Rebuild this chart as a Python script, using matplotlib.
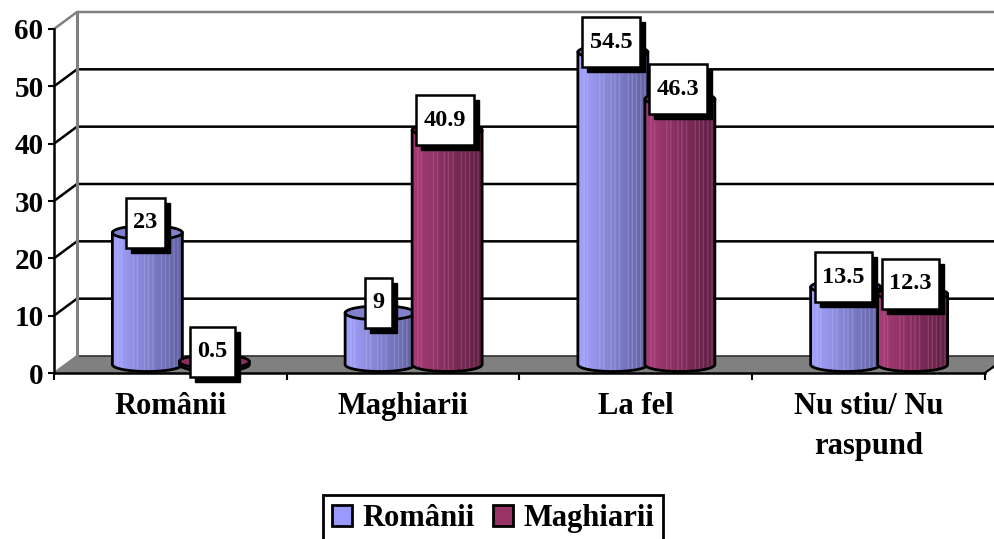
import numpy as np
import matplotlib
matplotlib.use("Agg")
import matplotlib.pyplot as plt
from matplotlib.patches import Rectangle, Ellipse, Polygon, Patch
from matplotlib.colors import LinearSegmentedColormap

categories = ["Românii", "Maghiarii", "La fel", "Nu stiu/ Nu\nraspund"]
romanii = [23, 9, 54.5, 13.5]
maghiarii = [0.5, 40.9, 46.3, 12.3]
series_names = ["Românii", "Maghiarii"]
y_ticks = [0, 10, 20, 30, 40, 50, 60]

plt.rcParams["font.family"] = ["Liberation Serif", "DejaVu Serif"]
plt.rcParams["font.weight"] = "bold"

W, H = 995, 539
fig = plt.figure(figsize=(W / 100, H / 100), dpi=100)
L, R, B, T = 54, 985, 373, 29
ax = fig.add_axes([L / W, (H - B) / H, (R - L) / W, (B - T) / H])
ax.patch.set_visible(False)

sx = (R - L) / 4.0
sy = (B - T) / 60.0
px = lambda v: v / sx
py = lambda v: v / sy
dx, dy = px(23), py(17)
xmax = px(W - L)

# floor
ax.add_patch(Polygon([(0, 0), (dx, dy), (xmax + 0.1, dy), (4 + 0, 0)], closed=True,
                     facecolor="#808080", edgecolor="none", zorder=1, clip_on=False))
ax.plot([4, 4 + px(12)], [0, py(9)], color="black", lw=1.5, zorder=1.5, clip_on=False)

# walls and gridlines
for v in y_ticks:
    col = "#808080" if v == 60 else "black"
    if v == 0:
        ax.plot([dx, xmax], [dy, dy], color="#303030", lw=1.2, zorder=1.2, clip_on=False)
        ax.plot([0, dx], [0, dy], color="#808080", lw=1.5, zorder=1.2, clip_on=False)
        continue
    ax.plot([0, dx, xmax], [v, v + dy, v + dy], color=col, lw=1.8, zorder=1.2,
            clip_on=False, solid_joinstyle="miter")
ax.plot([dx, dx], [dy, 60 + dy], color="#808080", lw=2.2, zorder=1.3, clip_on=False)

stripes = [0.08, 0.13, 0.3, 0.36, 0.46, 0.52, 0.58, 0.7, 0.76, 0.82, 0.88, 0.94]


def gradient(c0, c1, light):
    cmap = LinearSegmentedColormap.from_list("g", [c0, c1])
    arr = cmap(np.linspace(0, 1, 140))
    for s in stripes:
        i = int(s * 140)
        arr[i:i + 2, :3] = arr[i:i + 2, :3] * 0.72 + np.array(light) * 0.28
    return arr[np.newaxis, :, :]


BAR_W = px(70)
OFF = px(33.5)
SHIFT = px(10.5)
BASE = py(8.5)
EH = py(14)

styles = [
    dict(img=gradient("#A4A4FF", "#5F5FA0", (0.85, 0.85, 1.0)), top="#8080CC", off=-OFF),
    dict(img=gradient("#A83C78", "#5E1F42", (0.9, 0.6, 0.75)), top="#8A2E5E", off=OFF),
]

tt = np.linspace(np.pi, 2 * np.pi, 40)
bar_tops = []
for k, (vals, st) in enumerate(zip([romanii, maghiarii], styles)):
    for i, v in enumerate(vals):
        c = i + 0.5 + SHIFT + st["off"]
        top = v + BASE
        xs = c + BAR_W / 2 * np.cos(tt)
        ys = BASE + EH / 2 * np.sin(tt)
        pts = np.vstack([[c - BAR_W / 2, top], np.column_stack([xs, ys]), [c + BAR_W / 2, top]])
        z = 3 + i * 0.5 + k * 0.1
        body = Polygon(pts, closed=True, facecolor="none", edgecolor="black", lw=2, zorder=z + 0.02,
                       clip_on=False, joinstyle="round")
        ax.add_patch(body)
        im = ax.imshow(st["img"], extent=[c - BAR_W / 2, c + BAR_W / 2, 0, top + 1], aspect="auto",
                       zorder=z, interpolation="bilinear")
        im.set_clip_path(Polygon(pts, closed=True, transform=ax.transData))
        ax.add_patch(Ellipse((c, top), BAR_W, EH, facecolor=st["top"], edgecolor="black", lw=2,
                             zorder=z + 0.03, clip_on=False))
        bar_tops.append((c, top, v))

ax.set_xlim(0, 4)
ax.set_ylim(0, 60)

# data labels
renderer = fig.canvas.get_renderer()
for c, top, v in bar_tops:
    cx = c + px(-2)
    cy = top + py(10)
    t = ax.text(cx, cy, f"{v:g}", ha="center", va="center", fontsize=17.5, zorder=12, color="black")
    w = px(t.get_window_extent(renderer).width + 15)
    h = py(50)
    ax.add_patch(Rectangle((cx - w / 2 + px(5), cy - h / 2 - py(5)), w, h, facecolor="black",
                           edgecolor="black", lw=1, zorder=10, clip_on=False))
    ax.add_patch(Rectangle((cx - w / 2, cy - h / 2), w, h, facecolor="white",
                           edgecolor="black", lw=1.8, zorder=11, clip_on=False))

# axes
for s in ["top", "right"]:
    ax.spines[s].set_visible(False)
for s in ["left", "bottom"]:
    ax.spines[s].set_linewidth(1.8)
    ax.spines[s].set_zorder(2)
ax.set_yticks(y_ticks)
ax.set_xticks(range(5))
ax.set_xticklabels([])
ax.set_xticks([i + 0.5 for i in range(4)], minor=True)
ax.set_xticklabels(categories, minor=True, fontsize=22, linespacing=1.5)
ax.tick_params(axis="x", which="major", length=5, width=1.5)
ax.tick_params(axis="x", which="minor", length=0, pad=14)
ax.tick_params(axis="y", length=4.5, width=1.5, labelsize=21, pad=3)

# legend
handles = [Patch(facecolor="#9999FF", edgecolor="black", lw=2),
           Patch(facecolor="#993366", edgecolor="black", lw=2)]
leg = fig.legend(handles, series_names, ncol=2, loc="upper center",
                 bbox_to_anchor=(493 / W, (H - 495) / H), frameon=True, fancybox=False,
                 fontsize=22, edgecolor="black", framealpha=1, borderpad=0.3,
                 handlelength=0.65, handleheight=0.65, handletextpad=0.35, columnspacing=0.6,
                 borderaxespad=0)
leg.get_frame().set_linewidth(2)

fig.savefig("out.png", dpi=100)
